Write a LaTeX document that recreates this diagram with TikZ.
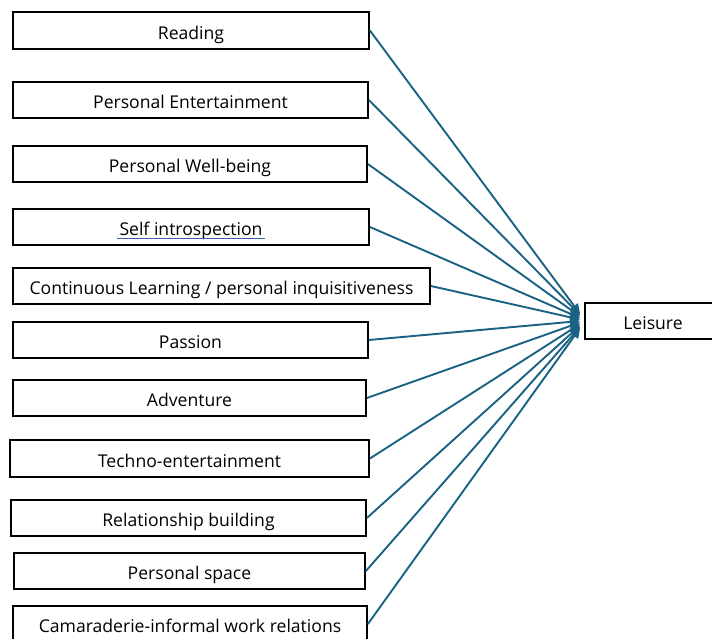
\documentclass[tikz,border=0pt]{standalone}
\usepackage{fontspec}
\setmainfont{Open Sans}
\usetikzlibrary{arrows.meta,calc}
\definecolor{linkblue}{HTML}{1A6283}
\definecolor{squiggle}{HTML}{3A5FA8}
\begin{document}
\begin{tikzpicture}[x=1pt,y=-1pt,
  item/.style={draw=black,line width=1.8pt,minimum height=36pt,inner sep=0pt,
    text height=17.4pt,text depth=0pt,
    text=black,font=\fontsize{17.6}{19}\selectfont},
  link/.style={draw=linkblue,line width=1.9pt,
    -{Triangle[length=10pt,width=9pt]}}]
\useasboundingbox (0,0) rectangle (712,639);

% source boxes
\node[item,minimum width=356pt,minimum height=37pt] (b1)  at (191,30.5)   {Reading};
\node[item,minimum width=355pt] (b2)  at (190.5,100)  {Personal Entertainment};
\node[item,minimum width=354pt] (b3)  at (190,164)    {Personal Well-being};
\node[item,minimum width=356pt] (b4)  at (191,227)    {Self introspection};
\node[item,minimum width=417pt] (b5)  at (221.5,286)  {Continuous Learning / personal inquisitiveness};
\node[item,minimum width=355pt] (b6)  at (190.5,340)  {Passion};
\node[item,minimum width=353pt] (b7)  at (189.5,398)  {Adventure};
\node[item,minimum width=359pt,minimum height=37pt] (b8)  at (189.5,458.5) {Techno-entertainment};
\node[item,minimum width=355pt] (b9)  at (188.5,518)  {Relationship building};
\node[item,minimum width=351pt] (b10) at (189.5,571)  {Personal space};
\node[item,minimum width=354pt] (b11) at (190,624)    {Camaraderie-informal work relations};

% target box
\node[item,minimum width=136pt] (leis) at (653,321) {Leisure};

% spell-check underline
\draw[squiggle,line width=0.8pt] ($(b4.center)+(-74,11)$) -- ($(b4.center)+(74,11)$);

% connectors
\foreach \i/\d in {1/-7,2/-6,3/-4.5,4/-3,5/-1.5,6/0,7/1.5,8/3,9/4.5,10/6,11/7}
  \draw[link] (b\i.east) -- ($(leis.west)+(-4,\d)$);
\end{tikzpicture}
\end{document}
